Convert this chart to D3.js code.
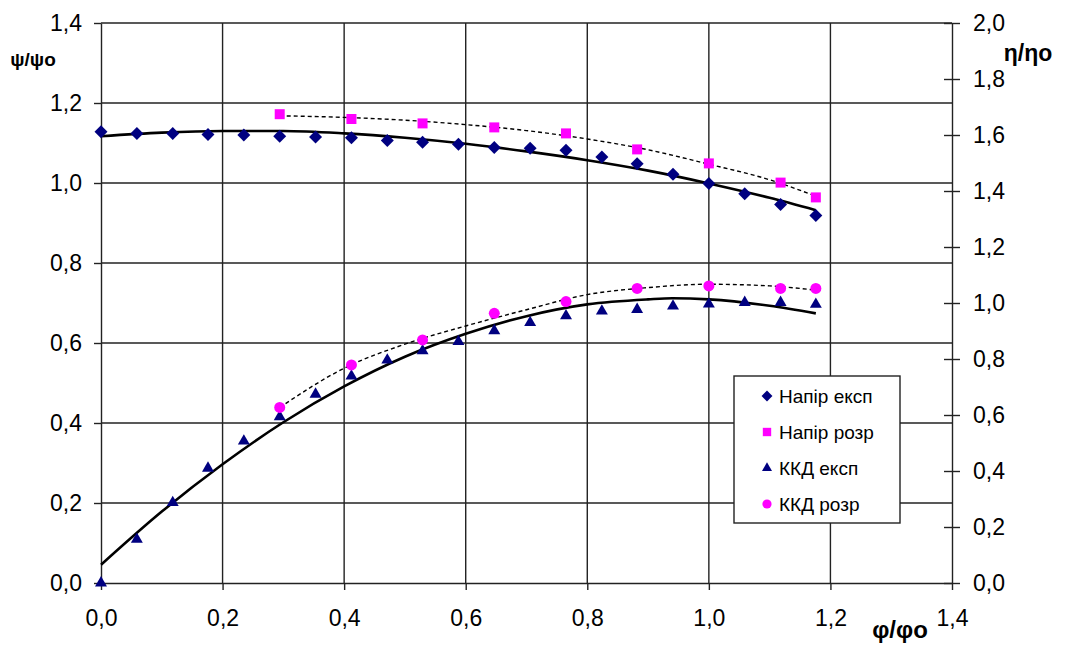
<!DOCTYPE html>
<html>
<head>
<meta charset="utf-8">
<script src="https://cdn.jsdelivr.net/npm/d3@7"></script>
<style>
  html, body { margin: 0; padding: 0; background: #fff; }
  svg { display: block; }
  text { font-family: "Liberation Sans", Arial, sans-serif; fill: #000; }
</style>
</head>
<body>
<svg id="chart" width="1066" height="648"></svg>
<script>
// Relative flow φ/φo of the measured points
const flowExp = [0, 0.059, 0.118, 0.176, 0.235, 0.294, 0.353, 0.412, 0.471, 0.529, 0.588,
                 0.647, 0.706, 0.765, 0.824, 0.882, 0.941, 1.0, 1.059, 1.118, 1.176];
// Relative head ψ/ψo, experiment (left axis)
const headExp = [1.128, 1.124, 1.124, 1.121, 1.120, 1.117, 1.115, 1.113, 1.106, 1.102, 1.097,
                 1.089, 1.087, 1.082, 1.065, 1.048, 1.022, 0.999, 0.973, 0.946, 0.919];
// Relative efficiency η/ηo, experiment (right axis)
const effExp = [0.0, 0.156, 0.287, 0.410, 0.507, 0.594, 0.674, 0.739, 0.796, 0.829, 0.862,
                0.901, 0.930, 0.954, 0.971, 0.977, 0.989, 0.996, 1.002, 1.002, 0.995];

// Calculated points
const flowCalc = [0.294, 0.412, 0.529, 0.647, 0.765, 0.882, 1.0, 1.118, 1.176];
const headCalc = [1.172, 1.160, 1.149, 1.139, 1.124, 1.084, 1.049, 1.001, 0.964];
const effCalc  = [0.627, 0.779, 0.868, 0.963, 1.005, 1.052, 1.061, 1.052, 1.052];

// Trend curves: [φ/φo, value]
const headExpTrend = [[0, 1.117], [0.1, 1.126], [0.2, 1.130], [0.3, 1.130], [0.4, 1.124], [0.5, 1.113],
  [0.6, 1.098], [0.7, 1.079], [0.8, 1.057], [0.9, 1.031], [1.0, 0.999], [1.1, 0.963], [1.176, 0.932]];
const headCalcTrend = [[0.294, 1.168], [0.4, 1.164], [0.5, 1.157], [0.6, 1.146], [0.7, 1.131],
  [0.8, 1.110], [0.9, 1.083], [1.0, 1.047], [1.1, 1.008], [1.176, 0.967]];
const effExpTrend = [[0, 0.065], [0.1, 0.255], [0.2, 0.424], [0.3, 0.574], [0.4, 0.702], [0.5, 0.808],
  [0.6, 0.890], [0.7, 0.953], [0.8, 0.995], [0.9, 1.013], [0.94, 1.017], [1.0, 1.013], [1.1, 0.990], [1.176, 0.963]];
const effCalcTrend = [[0.294, 0.627], [0.4, 0.767], [0.5, 0.853], [0.6, 0.918], [0.7, 0.976],
  [0.8, 1.030], [0.9, 1.055], [1.0, 1.067], [1.1, 1.061], [1.176, 1.046]];

// Axis ticks
const xTicks = [0, 0.2, 0.4, 0.6, 0.8, 1.0, 1.2, 1.4];
const leftTicks = [0, 0.2, 0.4, 0.6, 0.8, 1.0, 1.2, 1.4];
const rightTicks = [0, 0.2, 0.4, 0.6, 0.8, 1.0, 1.2, 1.4, 1.6, 1.8, 2.0];

const legendLabels = ["Напір експ", "Напір розр", "ККД експ", "ККД розр"];

const NAVY = "#000080", MAGENTA = "#ff00ff";
const fmt = v => d3.format(".1f")(v).replace(".", ",");

const svg = d3.select("#chart");
const L = 101, R = 952, T = 23, B = 583;

const x = d3.scaleLinear().domain([0, 1.4]).range([L, R]);
const yL = d3.scaleLinear().domain([0, 1.4]).range([B, T]);
const yR = d3.scaleLinear().domain([0, 2.0]).range([B, T]);

// Grid
const grid = svg.append("g").attr("stroke", "#222").attr("stroke-width", 1.4);
grid.selectAll("line.h").data(leftTicks.filter(d => d > 0)).join("line")
  .attr("x1", L).attr("x2", R).attr("y1", d => yL(d)).attr("y2", d => yL(d));
grid.selectAll("line.v").data(xTicks.filter(d => d > 0 && d < 1.4)).join("line")
  .attr("y1", T).attr("y2", B).attr("x1", d => x(d)).attr("x2", d => x(d));

// Axes
const axisStyle = g => {
  g.select(".domain").attr("stroke", "#222").attr("stroke-width", 1.4);
  g.selectAll(".tick line").attr("stroke", "#222").attr("stroke-width", 1.4);
  g.selectAll(".tick text").attr("font-size", 23).attr("font-family", "Liberation Sans, Arial, sans-serif").attr("fill", "#000");
};
svg.append("g").attr("transform", `translate(0,${B})`)
  .call(d3.axisBottom(x).tickValues(xTicks).tickFormat(fmt).tickSize(7).tickSizeOuter(0).tickPadding(20))
  .call(axisStyle);
svg.append("g").attr("transform", `translate(${L},0)`)
  .call(d3.axisLeft(yL).tickValues(leftTicks).tickFormat(fmt).tickSize(7).tickSizeOuter(0).tickPadding(12))
  .call(axisStyle);
const rAxis = svg.append("g").attr("transform", `translate(${R},0)`)
  .call(d3.axisRight(yR).tickValues(rightTicks).tickFormat(fmt).tickSize(8).tickSizeOuter(0).tickPadding(13))
  .call(axisStyle);
rAxis.selectAll(".tick line").attr("x1", -8);

// Axis titles
svg.append("text").attr("x", 33).attr("y", 66).attr("text-anchor", "middle")
  .attr("font-size", 19).attr("font-weight", "bold").text("ψ/ψo");
svg.append("text").attr("x", 1028).attr("y", 61).attr("text-anchor", "middle")
  .attr("font-size", 23).attr("font-weight", "bold").text("η/ηo");
svg.append("text").attr("x", 900).attr("y", 638).attr("text-anchor", "middle")
  .attr("font-size", 24).attr("font-weight", "bold").text("φ/φo");

// Trend curves
const lineL = d3.line().x(d => x(d[0])).y(d => yL(d[1])).curve(d3.curveMonotoneX);
const lineR = d3.line().x(d => x(d[0])).y(d => yR(d[1])).curve(d3.curveMonotoneX);
svg.append("path").attr("d", lineL(headCalcTrend)).attr("fill", "none")
  .attr("stroke", "#000").attr("stroke-width", 1.4).attr("stroke-dasharray", "4,3");
svg.append("path").attr("d", lineR(effCalcTrend)).attr("fill", "none")
  .attr("stroke", "#000").attr("stroke-width", 1.4).attr("stroke-dasharray", "4,3");
svg.append("path").attr("d", lineL(headExpTrend)).attr("fill", "none")
  .attr("stroke", "#000").attr("stroke-width", 2.6);
svg.append("path").attr("d", lineR(effExpTrend)).attr("fill", "none")
  .attr("stroke", "#000").attr("stroke-width", 2.6);

// Marker shapes
const diamondType = {
  draw(ctx, size) {
    const r = Math.sqrt(size / 2);
    ctx.moveTo(0, -r); ctx.lineTo(r, 0); ctx.lineTo(0, r); ctx.lineTo(-r, 0); ctx.closePath();
  }
};
const markers = [
  { type: diamondType, size: 84, color: NAVY },
  { type: d3.symbolSquare, size: 100, color: MAGENTA },
  { type: d3.symbolTriangle, size: 62, color: NAVY },
  { type: d3.symbolCircle, size: 95, color: MAGENTA }
];
const sym = m => d3.symbol().type(m.type).size(m.size)();

const drawPoints = (xs, ys, scale, m) => {
  svg.append("g").selectAll("path").data(xs.map((v, i) => [v, ys[i]])).join("path")
    .attr("d", sym(m))
    .attr("transform", d => `translate(${x(d[0])},${scale(d[1])})`)
    .attr("fill", m.color);
};
drawPoints(flowExp, headExp, yL, markers[0]);
drawPoints(flowCalc, headCalc, yL, markers[1]);
drawPoints(flowExp, effExp, yR, markers[2]);
drawPoints(flowCalc, effCalc, yR, markers[3]);

// Legend
const lg = svg.append("g").attr("transform", "translate(734,376)");
lg.append("rect").attr("width", 166).attr("height", 147)
  .attr("fill", "#fff").attr("stroke", "#222").attr("stroke-width", 1.4);
legendLabels.forEach((label, i) => {
  const cy = 20 + i * 36;
  const m = Object.assign({}, markers[i], { size: markers[i].size * 0.7 });
  lg.append("path").attr("d", sym(m)).attr("transform", `translate(33,${cy})`).attr("fill", m.color);
  lg.append("text").attr("x", 45).attr("y", cy + 7).attr("font-size", 19).text(label);
});
</script>
</body>
</html>
